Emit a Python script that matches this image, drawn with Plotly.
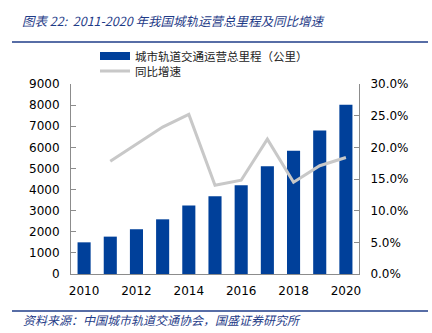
import plotly.graph_objects as go

years = [2010, 2011, 2012, 2013, 2014, 2015, 2016, 2017, 2018, 2019, 2020]
mileage = [1500, 1770, 2120, 2590, 3240, 3680, 4200, 5100, 5840, 6800, 8020]
growth_years = [2011, 2012, 2013, 2014, 2015, 2016, 2017, 2018, 2019, 2020]
growth = [17.8, 20.5, 23.2, 25.2, 14.0, 14.8, 21.3, 14.5, 17.1, 18.4]

bar_name = "城市轨道交通运营总里程（公里）"
line_name = "同比增速"
title_text = "图表 22:  2011-2020 年我国城轨运营总里程及同比增速"
source_text = "资料来源：中国城市轨道交通协会，国盛证券研究所"

left_ticks = [0, 1000, 2000, 3000, 4000, 5000, 6000, 7000, 8000, 9000]
right_ticks = [0, 5, 10, 15, 20, 25, 30]
x_ticks = [2010, 2012, 2014, 2016, 2018, 2020]

BLUE = "#00409A"
GREY = "#C8C8C8"
AXIS = "#8C8C8C"
TITLE_BLUE = "#1F3C88"
TICK_FONT = dict(family="DejaVu Sans, Verdana, sans-serif", size=12, color="#000000")
LEG_FONT = dict(family="Noto Sans CJK SC", size=11.5, color="#222222")

W, H = 432, 333
L, R, T, B = 71, 73, 84, 59
pw = W - L - R
ph = H - T - B

def px_x(px):
    return (px - L) / pw

def px_y(py):
    return (H - B - py) / ph

fig = go.Figure()
fig.add_trace(go.Bar(x=years, y=mileage, name=bar_name, marker_color=BLUE,
                     marker_line_width=0, yaxis="y", showlegend=False,
                     legendgroup="bar"))
# legend-only entry giving the wide rectangular swatch of the reference
fig.add_trace(go.Scatter(x=[None], y=[None], name=bar_name, mode="lines",
                         line=dict(color=BLUE, width=8), legendgroup="bar",
                         legend="legend", hoverinfo="skip"))
fig.add_trace(go.Scatter(x=growth_years, y=growth, name=line_name, mode="lines",
                         line=dict(color=GREY, width=3), yaxis="y2", legend="legend2"))

fig.update_layout(
    width=W, height=H,
    margin=dict(l=L, r=R, t=T, b=B),
    paper_bgcolor="white", plot_bgcolor="white",
    bargap=0.5,
    showlegend=True,
    legend=dict(x=px_x(95), y=px_y(56), xanchor="left", yanchor="middle",
                font=LEG_FONT, bgcolor="rgba(0,0,0,0)", itemwidth=30),
    legend2=dict(x=px_x(95), y=px_y(71), xanchor="left", yanchor="middle",
                 font=LEG_FONT, bgcolor="rgba(0,0,0,0)", itemwidth=30),
    xaxis=dict(range=[2009.5, 2020.5], tickvals=x_ticks, ticktext=[str(v) for v in x_ticks],
               showgrid=False, zeroline=False, showline=True, linecolor=AXIS, linewidth=1,
               ticks="", tickfont=TICK_FONT, ticklabelstandoff=6),
    yaxis=dict(range=[0, 9000], tickvals=left_ticks, showgrid=False, zeroline=False,
               showline=True, linecolor=AXIS, linewidth=1, ticks="inside", ticklen=5,
               tickcolor=AXIS, tickfont=TICK_FONT, ticklabelstandoff=8),
    yaxis2=dict(range=[0, 30], tickvals=right_ticks,
                ticktext=[f"{v:.1f}%" for v in right_ticks],
                overlaying="y", side="right", showgrid=False, zeroline=False,
                showline=True, linecolor=AXIS, linewidth=1, ticks="inside", ticklen=5,
                tickcolor=AXIS, tickfont=TICK_FONT, ticklabelstandoff=8),
    annotations=[
        dict(text=f"<i>{title_text}</i>", x=px_x(20), y=px_y(20), xref="paper", yref="paper",
             xanchor="left", yanchor="middle", showarrow=False,
             font=dict(family="Noto Sans CJK SC", size=12.5, color=TITLE_BLUE)),
        dict(text=f"<i>{source_text}</i>", x=px_x(21), y=px_y(319), xref="paper", yref="paper",
             xanchor="left", yanchor="middle", showarrow=False,
             font=dict(family="Noto Sans CJK SC", size=12, color=TITLE_BLUE)),
    ],
    shapes=[
        dict(type="line", xref="paper", yref="paper", x0=px_x(12), x1=px_x(428),
             y0=px_y(42), y1=px_y(42), line=dict(color=TITLE_BLUE, width=1.5)),
        dict(type="line", xref="paper", yref="paper", x0=px_x(12), x1=px_x(428),
             y0=px_y(311), y1=px_y(311), line=dict(color=TITLE_BLUE, width=1.5)),
    ],
)

fig.write_html("out.html")
